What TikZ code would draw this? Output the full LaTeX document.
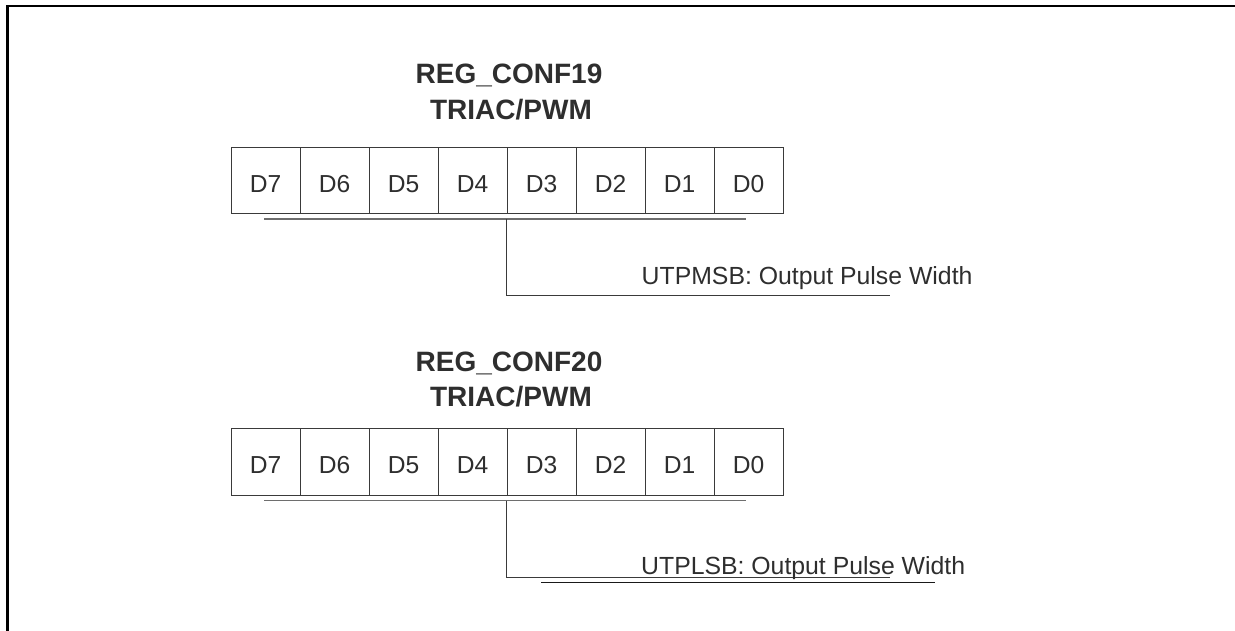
\documentclass[tikz,border=0pt]{standalone}
\usepackage{fontspec}
\setmainfont{Liberation Sans}
\definecolor{txt}{HTML}{2E2E2E}
\definecolor{cellline}{HTML}{3A3A3A}
\definecolor{uline}{HTML}{6E6E6E}
\tikzset{
  cell/.style={draw=cellline, line width=1pt, minimum width=69pt, minimum height=66.5pt,
    inner sep=0pt, text height=23pt, text depth=0pt, text=txt, font=\fontsize{24.6pt}{27pt}\selectfont},
  title/.style={anchor=base, inner sep=0pt, text=txt, font=\fontsize{28pt}{30pt}\selectfont\bfseries},
  desc/.style={anchor=base west, inner sep=0pt, text=txt, font=\fontsize{24.8pt}{27pt}\selectfont},
  underl/.style={draw=uline, line width=1.4pt},
  conn/.style={draw=cellline, line width=1pt},
  frameline/.style={draw=black, line width=2.2pt}
}
\begin{document}
\begin{tikzpicture}[x=1pt,y=-1pt]
\useasboundingbox (0,0) rectangle (1235,631);
\draw[frameline] (7.5,631) -- (7.5,6) -- (1235,6);

% Register 1
\node[title] (t1a) at (509,83.3) {REG\_CONF19};
\node[title] (t1b) at (511,119.3) {TRIAC/PWM};
\foreach \i [count=\k from 0] in {7,6,5,4,3,2,1,0} {
  \node[cell] (a\i) at (231+34.5+69*\k,180.75) {D\i};
}
\coordinate (u1s) at (264,219);
\coordinate (u1e) at (746,219);
\draw[underl] (u1s) -- (u1e);
\coordinate (v1) at (a3.south west |- u1s);
\coordinate (h1) at (890,296);
\draw[conn] (v1) |- (h1);
\node[desc] (d1) at (641.5,285) {UTPMSB: Output Pulse Width};

% Register 2
\node[title] (t2a) at (509,371) {REG\_CONF20};
\node[title] (t2b) at (511,406.7) {TRIAC/PWM};
\foreach \i [count=\k from 0] in {7,6,5,4,3,2,1,0} {
  \node[cell, minimum height=67.4pt] (b\i) at (231+34.5+69*\k,462) {D\i};
}
\coordinate (u2s) at (264,500.7);
\coordinate (u2e) at (746,500.7);
\draw[underl] (u2s) -- (u2e);
\coordinate (v2) at (b3.south west |- u2s);
\coordinate (h2) at (890,577.5);
\draw[conn] (v2) |- (h2);
\node[desc] (d2) at (641,574) {UTPLSB: Output Pulse Width};
\coordinate (x2s) at (541,582.3);
\coordinate (x2e) at (935,582.3);
\draw[conn, draw=black!90] (x2s) -- (x2e);
\end{tikzpicture}
\end{document}
